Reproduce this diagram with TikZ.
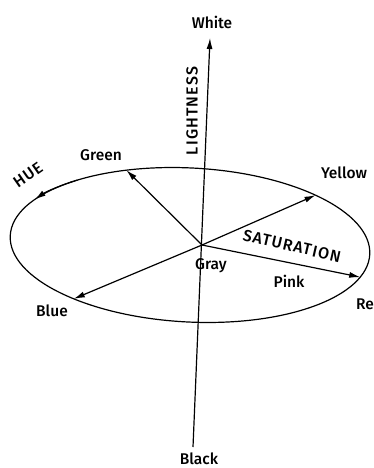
\documentclass[tikz,border=0pt]{standalone}
\usepackage{fontspec}
\setmainfont{Fira Sans}[BoldFont={Fira Sans Medium}]
\usetikzlibrary{arrows.meta}
\tikzset{
  rim/.style  = {line width=1.2pt},
  axis/.style = {line width=1.2pt, -{Latex[length=11pt,width=6pt]}},
  lbl/.style  = {font=\fontsize{15.5}{17}\selectfont\bfseries, inner sep=1pt},
  caps/.style = {font=\fontsize{16}{18}\selectfont\bfseries
                 \addfontfeatures{LetterSpace=7}, inner sep=1pt},
}

\begin{document}
\begin{tikzpicture}[x=1pt,y=-1pt]
  \useasboundingbox (0,0) rectangle (373,468);
  \coordinate (gray) at (202,245);
  % the hue circle, slightly tilted
  \begin{scope}[shift={(190,245)},rotate=-3]
    \draw[rim] (0,0) ellipse [x radius=180, y radius=77];
    \coordinate (yel) at (-47:180 and 77);
    \coordinate (grn) at (-112:180 and 77);
    \coordinate (blu) at (129:180 and 77);
    \coordinate (rd)  at (17.5:180 and 77);
    \draw[axis] (-130:180 and 77) arc[start angle=-130, end angle=-151,
      x radius=180, y radius=77];
  \end{scope}
  % lightness axis
  \coordinate (top) at (210,38);
  \coordinate (bot) at (193,447);
  \draw[axis] (bot) -- (top);
  \draw[axis] (gray) -- (yel);
  \draw[axis] (gray) -- (grn);
  \draw[axis] (gray) -- (blu);
  \draw[axis] (gray) -- (rd);
  \node[lbl] (white) at (212,22) {White};
  \node[lbl] (black) at (199,459) {Black};
  \node[caps, rotate=90] (light) at (192,111) {LIGHTNESS};
  \node[lbl] (green) at (101,155) {Green};
  \node[lbl] (yellow) at (344,173) {Yellow};
  \node[caps, rotate=35] (hue) at (28,175) {HUE};
  \node[lbl] (gry) at (211,266) {Gray};
  \node[caps, rotate=-13] (sat) at (292,246) {SATURATION};
  \node[lbl] (pink) at (289,281) {Pink};
  \node[lbl] (blue) at (52,311) {Blue};
  \node[lbl, anchor=west] (red) at (355,304) {Red};
\end{tikzpicture}
\end{document}
